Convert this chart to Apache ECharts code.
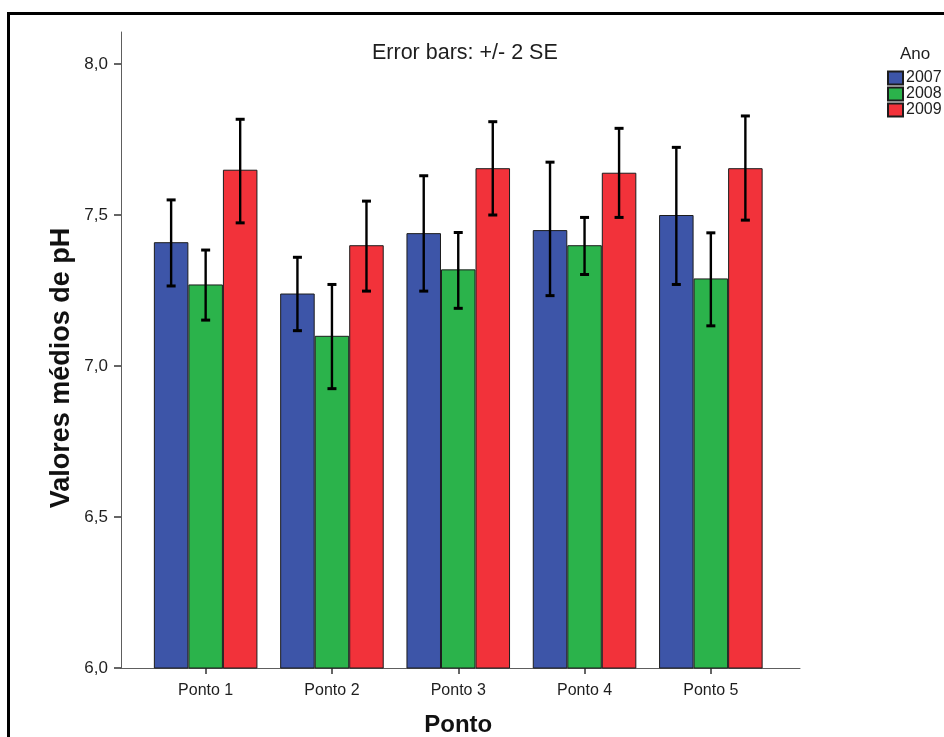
<!DOCTYPE html>
<html>
<head>
<meta charset="utf-8">
<title>Valores médios de pH por ponto e ano</title>
<script src="https://cdn.jsdelivr.net/npm/echarts@6/dist/echarts.min.js"></script>
<style>
  html, body { margin: 0; padding: 0; background: #fff; }
  #chart { width: 944px; height: 737px; }
</style>
</head>
<body>
<div id="chart"></div>
<script>
// Sampling points (x categories) and years (series)
const pontos = ['Ponto 1', 'Ponto 2', 'Ponto 3', 'Ponto 4', 'Ponto 5'];
const anos = ['2007', '2008', '2009'];

// Mean pH per point, one array per year
const media2007 = [7.41, 7.24, 7.44, 7.45, 7.50];
const media2008 = [7.27, 7.10, 7.32, 7.40, 7.29];
const media2009 = [7.65, 7.40, 7.655, 7.64, 7.655];

// Error bar limits (mean +/- 2 SE)
const inf2007 = [7.265, 7.117, 7.248, 7.233, 7.270];
const sup2007 = [7.550, 7.360, 7.630, 7.675, 7.724];
const inf2008 = [7.152, 6.925, 7.191, 7.303, 7.133];
const sup2008 = [7.384, 7.270, 7.442, 7.492, 7.441];
const inf2009 = [7.474, 7.248, 7.500, 7.492, 7.483];
const sup2009 = [7.817, 7.546, 7.809, 7.787, 7.828];

// Y axis tick values
const yTicks = [6.0, 6.5, 7.0, 7.5, 8.0];

const medias = [media2007, media2008, media2009];
const inferiores = [inf2007, inf2008, inf2009];
const superiores = [sup2007, sup2008, sup2009];
const cores = ['#3d55a8', '#2bb34b', '#f2323a'];

const CATEGORY_GAP = 0.18;

function fmt(v) {
  return v.toFixed(1).replace('.', ',');
}

// Draws one whisker with caps, aligned with the matching bar in its group
function makeErrorRenderer(k) {
  return function (params, api) {
    const cat = api.value(0);
    const lo = api.value(1);
    const hi = api.value(2);
    const band = api.size([1, 0])[0];
    const barW = band * (1 - CATEGORY_GAP) / anos.length;
    const pLo = api.coord([cat, lo]);
    const pHi = api.coord([cat, hi]);
    const x = pLo[0] + (k - (anos.length - 1) / 2) * barW;
    const cap = 4.5;
    return {
      type: 'group',
      children: [
        { type: 'line', shape: { x1: x, y1: pLo[1], x2: x, y2: pHi[1] }, style: { stroke: '#000', lineWidth: 2.4 } },
        { type: 'line', shape: { x1: x - cap, y1: pHi[1], x2: x + cap, y2: pHi[1] }, style: { stroke: '#000', lineWidth: 3 } },
        { type: 'line', shape: { x1: x - cap, y1: pLo[1], x2: x + cap, y2: pLo[1] }, style: { stroke: '#000', lineWidth: 3 } }
      ]
    };
  };
}

const barSeries = anos.map(function (ano, k) {
  return {
    name: ano,
    type: 'bar',
    xAxisIndex: 0,
    yAxisIndex: 0,
    data: medias[k],
    barGap: '0%',
    barCategoryGap: (CATEGORY_GAP * 100) + '%',
    itemStyle: { color: cores[k], borderColor: '#1c1c1c', borderWidth: 1 },
    emphasis: { disabled: true },
    z: 2
  };
});

const errorSeries = anos.map(function (ano, k) {
  return {
    name: ano + ' +/- 2 SE',
    type: 'custom',
    xAxisIndex: 0,
    yAxisIndex: 0,
    renderItem: makeErrorRenderer(k),
    data: pontos.map(function (p, i) { return [i, inferiores[k][i], superiores[k][i]]; }),
    encode: { x: 0, y: [1, 2] },
    z: 5,
    silent: true
  };
});

const chart = echarts.init(document.getElementById('chart'), null, { renderer: 'canvas' });

const axisGray = '#5e5e5e';
const textColor = '#1e1e1e';
const fontFamily = 'Liberation Sans, Arial, sans-serif';

chart.setOption({
  backgroundColor: '#ffffff',
  animation: false,
  textStyle: { fontFamily: fontFamily, color: textColor },
  title: [
    {
      text: 'Error bars: +/- 2 SE',
      left: 372,
      top: 42,
      padding: 0,
      textStyle: { fontSize: 21.5, fontWeight: 'normal', color: textColor, fontFamily: fontFamily }
    },
    {
      text: 'Ano',
      left: 900,
      top: 46,
      padding: 0,
      textStyle: { fontSize: 17, fontWeight: 'normal', color: textColor, fontFamily: fontFamily }
    }
  ],
  legend: {
    data: anos,
    orient: 'vertical',
    left: 887,
    top: 70,
    padding: 0,
    itemWidth: 15,
    itemHeight: 13,
    itemGap: 0,
    icon: 'rect',
    selectedMode: false,
    textStyle: { fontSize: 16, lineHeight: 14, color: textColor, fontFamily: fontFamily, padding: [0, 0, 0, -2] }
  },
  grid: [
    { left: 142.5, right: 170, top: 32, bottom: 69, outerBoundsMode: 'none' },
    { left: 121, right: 144, top: 32, bottom: 69, outerBoundsMode: 'none' }
  ],
  xAxis: [
    {
      type: 'category',
      gridIndex: 0,
      data: pontos,
      axisLine: { show: false },
      axisTick: { show: true, alignWithLabel: true, length: 6, lineStyle: { color: '#333', width: 1.5 } },
      axisLabel: { margin: 15, fontSize: 16, color: textColor, fontFamily: fontFamily },
      name: 'Ponto',
      nameLocation: 'middle',
      nameGap: 45,
      nameTextStyle: { fontSize: 24, fontWeight: 'bold', color: '#111', fontFamily: fontFamily },
      splitLine: { show: false }
    },
    {
      // plain baseline spanning the full plot width
      type: 'value',
      gridIndex: 1,
      min: 0,
      max: 1,
      axisLine: { show: true, lineStyle: { color: axisGray, width: 1 } },
      axisTick: { show: false },
      axisLabel: { show: false },
      splitLine: { show: false }
    }
  ],
  yAxis: [
    {
      type: 'value',
      gridIndex: 0,
      min: 6,
      max: 8.106,
      interval: 0.5,
      offset: 21.5,
      axisLine: { show: true, lineStyle: { color: axisGray, width: 1 } },
      axisTick: { show: true, length: 7, customValues: yTicks, lineStyle: { color: '#333', width: 1.5 } },
      axisLabel: {
        customValues: yTicks,
        margin: 13,
        fontSize: 17,
        color: textColor,
        fontFamily: fontFamily,
        formatter: fmt
      },
      splitLine: { show: false }
    },
    {
      type: 'value',
      gridIndex: 1,
      show: false
    }
  ],
  graphic: [
    {
      type: 'text',
      x: 62,
      y: 368,
      rotation: Math.PI / 2,
      style: {
        text: 'Valores médios de pH',
        fontSize: 27,
        fontWeight: 'bold',
        fontFamily: fontFamily,
        fill: '#111',
        align: 'center',
        verticalAlign: 'middle'
      }
    },
    {
      type: 'rect',
      silent: true,
      shape: { x: 8.5, y: 13.5, width: 1000, height: 800 },
      style: { fill: 'none', stroke: '#000', lineWidth: 3 }
    }
  ],
  series: barSeries.concat(errorSeries)
});
</script>
</body>
</html>
